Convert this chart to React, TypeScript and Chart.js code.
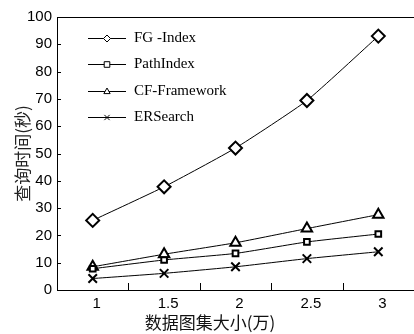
import React, { useEffect, useRef } from "react";
import { Chart, registerables } from "chart.js";

Chart.register(...registerables);

const categories = ["1", "1.5", "2", "2.5", "3"];
const fgIndex = [25.5, 37.8, 52, 69.4, 93];
const pathIndex = [7.8, 11, 13.4, 17.6, 20.5];
const cfFramework = [8.5, 13.1, 17.3, 22.5, 27.6];
const erSearch = [4.2, 6.1, 8.5, 11.5, 14];
const seriesNames = ["FG -Index", "PathIndex", "CF-Framework", "ERSearch"];
const xTitle = "数据图集大小(万)";
const yTitle = "查询时间(秒)";
const yMin = 0;
const yMax = 100;
const yStep = 10;

const pointStyles = ["rectRot", "rect", "triangle", "crossRot"];

function drawMarker(ctx: CanvasRenderingContext2D, style: string, x: number, y: number, r: number) {
  ctx.beginPath();
  if (style === "rectRot") {
    ctx.moveTo(x, y - r);
    ctx.lineTo(x + r, y);
    ctx.lineTo(x, y + r);
    ctx.lineTo(x - r, y);
    ctx.closePath();
    ctx.fill();
    ctx.stroke();
  } else if (style === "rect") {
    const s = r * 0.8;
    ctx.rect(x - s, y - s, 2 * s, 2 * s);
    ctx.fill();
    ctx.stroke();
  } else if (style === "triangle") {
    ctx.moveTo(x, y - r);
    ctx.lineTo(x + r * 0.9, y + r * 0.6);
    ctx.lineTo(x - r * 0.9, y + r * 0.6);
    ctx.closePath();
    ctx.fill();
    ctx.stroke();
  } else {
    const d = r * 0.75;
    ctx.moveTo(x - d, y - d);
    ctx.lineTo(x + d, y + d);
    ctx.moveTo(x + d, y - d);
    ctx.lineTo(x - d, y + d);
    ctx.stroke();
  }
}

const framePlugin = {
  id: "frameAndLegend",
  afterDraw(chart: any) {
    const ctx = chart.ctx as CanvasRenderingContext2D;
    const area = chart.chartArea;
    const xs = chart.scales.x;
    const ys = chart.scales.y;
    ctx.save();
    ctx.strokeStyle = "#000";
    ctx.lineWidth = 1;
    // top frame
    ctx.beginPath();
    ctx.moveTo(area.left, area.top + 0.5);
    ctx.lineTo(area.right, area.top + 0.5);
    ctx.stroke();
    // y ticks inward
    ctx.beginPath();
    for (let v = yMin; v <= yMax; v += yStep) {
      const py = Math.round(ys.getPixelForValue(v)) + 0.5;
      ctx.moveTo(area.left, py);
      ctx.lineTo(area.left + 4, py);
    }
    // x ticks between categories, inward
    for (let i = 0; i < categories.length - 1; i++) {
      const px = Math.round((xs.getPixelForValue(i) + xs.getPixelForValue(i + 1)) / 2) + 0.5;
      ctx.moveTo(px, area.bottom);
      ctx.lineTo(px, area.bottom - 7);
    }
    ctx.stroke();

    // x title
    ctx.fillStyle = "#111";
    ctx.font = "17px 'Noto Sans CJK SC', sans-serif";
    ctx.textAlign = "center";
    ctx.textBaseline = "middle";
    ctx.fillText(xTitle, 210, 323);

    // legend
    const lx0 = 88;
    const lx1 = 126;
    const ly0 = 38;
    const dy = 26.3;
    ctx.font = "15px 'Liberation Serif', serif";
    ctx.textAlign = "left";
    ctx.textBaseline = "middle";
    chart.data.datasets.forEach((ds: any, i: number) => {
      const y = Math.round(ly0 + i * dy) + 0.5;
      ctx.strokeStyle = "#000";
      ctx.lineWidth = 1;
      ctx.beginPath();
      ctx.moveTo(lx0, y);
      ctx.lineTo(lx1, y);
      ctx.stroke();
      ctx.fillStyle = "#fff";
      drawMarker(ctx, pointStyles[i], (lx0 + lx1) / 2, y, 3.5);
      ctx.fillStyle = "#000";
      ctx.fillText(ds.label, 134, y);
    });
    ctx.restore();
  },
};

export default function App() {
  const ref = useRef<HTMLCanvasElement | null>(null);
  useEffect(() => {
    document.body.style.margin = "0";
    if (!ref.current) return;
    const mk = (label: string, data: number[], style: string, radius: number) => ({
      label,
      data,
      borderColor: "#000",
      borderWidth: 1,
      pointStyle: style,
      pointRadius: radius,
      pointBorderWidth: 2,
      pointBackgroundColor: "#fff",
      pointBorderColor: "#000",
      tension: 0.15,
      fill: false,
      clip: false,
    });
    const chart = new Chart(ref.current, {
      type: "line",
      data: {
        labels: categories,
        datasets: [
          mk(seriesNames[0], fgIndex, "rectRot", 6.5),
          mk(seriesNames[1], pathIndex, "rect", 4),
          mk(seriesNames[2], cfFramework, "triangle", 6),
          mk(seriesNames[3], erSearch, "crossRot", 6),
        ],
      },
      options: {
        responsive: false,
        animation: false,
        layout: { autoPadding: false, padding: { top: 17, right: 0, left: 0, bottom: 0 } },
        plugins: { legend: { display: false }, tooltip: { enabled: false } },
        scales: {
          x: {
            type: "category",
            offset: true,
            grid: { display: false, drawTicks: false, offset: true },
            border: { display: true, color: "#000", width: 1 },
            ticks: {
              color: "#000",
              padding: 5,
              labelOffset: 4,
              font: { family: "'Liberation Sans', Arial", size: 15 },
            },
            title: { display: false },
            afterFit: (s: any) => {
              s.height = 44;
              s.paddingLeft = 0;
              s.paddingRight = 0;
            },
          },
          y: {
            min: yMin,
            max: yMax,
            grid: { display: false, drawTicks: false },
            border: { display: true, color: "#000", width: 1 },
            ticks: {
              stepSize: yStep,
              color: "#000",
              padding: 5,
              font: { family: "'Liberation Sans', Arial", size: 15 },
            },
            title: {
              display: true,
              text: yTitle,
              color: "#222",
              font: { family: "'Noto Sans CJK SC'", size: 17 },
              padding: { top: 12, bottom: 0 },
            },
            afterFit: (s: any) => {
              s.width = 57;
            },
          },
        },
      },
      plugins: [framePlugin],
    });
    return () => chart.destroy();
  }, []);
  return <canvas ref={ref} width={414} height={334} style={{ display: "block" }} />;
}
